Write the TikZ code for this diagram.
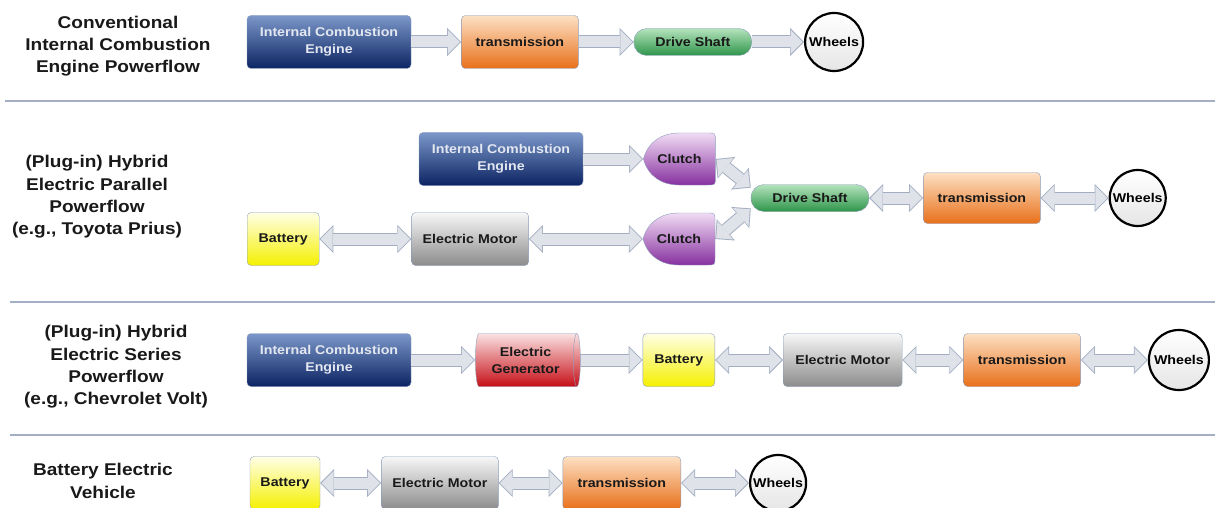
\documentclass[tikz,border=0pt]{standalone}
\usepackage{fontspec}
\setmainfont{Liberation Sans}[FakeStretch=1.12]
\usetikzlibrary{arrows.meta, positioning, shapes.geometric, backgrounds}

\definecolor{boxline}{HTML}{8D9DBD}
\definecolor{divline}{HTML}{A3AFC5}
\definecolor{arrowfill}{HTML}{DFE3E9}
\definecolor{arrowline}{HTML}{A3AEC2}
\definecolor{icetop}{HTML}{7B97C9}
\definecolor{icebot}{HTML}{0C2463}
\definecolor{icetext}{HTML}{E3E7F0}
\definecolor{trtop}{HTML}{FDE0C3}
\definecolor{trbot}{HTML}{E8701A}
\definecolor{dstop}{HTML}{B4E3BD}
\definecolor{dsbot}{HTML}{2E9549}
\definecolor{battop}{HTML}{FFFFE6}
\definecolor{batbot}{HTML}{F5F000}
\definecolor{emtop}{HTML}{F7F7F7}
\definecolor{embot}{HTML}{8C8C8C}
\definecolor{gentop}{HTML}{FBE2E2}
\definecolor{genbot}{HTML}{C50F17}
\definecolor{cltop}{HTML}{F0DCF4}
\definecolor{clbot}{HTML}{87309F}

\begin{document}
\begin{tikzpicture}[
    x=1pt, y=-1pt,
    box/.style = {
        draw=boxline,
        rounded corners=4pt,
        minimum height=53pt,
        inner sep=1pt,
        align=center,
        text=black!90,
        font=\fontsize{12.7}{17}\selectfont\bfseries
    },
    ice/.style = {box, minimum width=164pt, top color=icetop, bottom color=icebot, text=icetext},
    trans/.style = {box, minimum width=117pt, top color=trtop, bottom color=trbot},
    motor/.style = {box, minimum width=117pt, top color=emtop, bottom color=embot},
    batt/.style = {box, minimum width=72pt, top color=battop, bottom color=batbot},
    shaft/.style = {box, minimum width=118pt, minimum height=27pt, rounded corners=13pt, top color=dstop, bottom color=dsbot},
    gen/.style = {box, sharp corners, cylinder, aspect=0.25, minimum height=105pt, minimum width=53pt, top color=gentop, bottom color=genbot},
    clutch/.style = {
        minimum width=72pt, minimum height=52pt,
        inner sep=0pt,
        text=black!90,
        font=\fontsize{12.7}{17}\selectfont\bfseries
    },
    wheel/.style = {
        circle,
        draw=black, line width=2.2pt,
        minimum size=58pt, inner sep=0pt,
        top color=white, bottom color=black!10,
        font=\fontsize{12.7}{17}\selectfont\bfseries
    },
    rowtitle/.style = {
        align=center,
        text=black!90,
        font=\fontsize{17}{22.3}\selectfont\bfseries
    },
    divider/.style = {
        draw=divline,
        line width=1.8pt
    },
    flow/.style = {
        draw=arrowfill, line width=11pt,
        -{Triangle[width=24pt, length=12pt, line width=0pt]},
        shorten >=1.3pt,
        preaction={draw=arrowline, line width=13pt, shorten >=0pt,
            -{Triangle[width=28pt, length=14pt, line width=0pt]}}
    },
    flowboth/.style = {
        draw=arrowfill, line width=11pt,
        {Triangle[width=24pt, length=12pt, line width=0pt]}-{Triangle[width=24pt, length=12pt, line width=0pt]},
        shorten >=1.3pt, shorten <=1.3pt,
        preaction={draw=arrowline, line width=13pt, shorten >=0pt, shorten <=0pt,
            {Triangle[width=28pt, length=14pt, line width=0pt]}-{Triangle[width=28pt, length=14pt, line width=0pt]}}
    }
]
  \useasboundingbox (0,0) rectangle (1215,508);

  % conventional
  \node[rowtitle] (lab1) at (118,46) {Conventional\\Internal Combustion\\Engine Powerflow};
  \node[ice] (ice1) at (329,42) {Internal Combustion\\Engine};
  \node[trans] (tr1) [right=50pt of ice1] {transmission};
  \node[shaft] (ds1) [right=55pt of tr1] {Drive Shaft};
  \node[wheel] (wh1) [right=52pt of ds1] {Wheels};
  \draw[flow] (ice1) to (tr1);
  \draw[flow] (tr1) to (ds1);
  \draw[flow] (ds1) to (wh1);
  \draw[divider] (5,101) -- (1215,101);

  % parallel hybrid
  \node[rowtitle] (lab2) at (97,197) {(Plug-in) Hybrid\\Electric Parallel\\Powerflow\\(e.g., Toyota Prius)};
  \node[ice] (ice2) at (501,159) {Internal Combustion\\Engine};
  \node[clutch] (cl1) [right=60pt of ice2] {Clutch};
  \node[clutch] (cl2) at (679,239) {Clutch};
  \node[motor] (em2) [left=114pt of cl2] {Electric Motor};
  \node[batt] (bat2) [left=92pt of em2] {Battery};
  \node[shaft] (ds2) at (810,198) {Drive Shaft};
  \node[trans, minimum height=51pt] (tr2) [right=54pt of ds2] {transmission};
  \node[wheel, minimum size=56pt] (wh2) [right=68pt of tr2] {Wheels};
  \draw[flow] (ice2) to (cl1);
  \draw[flowboth] (bat2) to (em2);
  \draw[flowboth] (em2) to (cl2);
  \draw[flowboth] (cl1.east) to (ds2.170);
  \draw[flowboth] (cl2.east) to (ds2.190);
  \draw[flowboth] (ds2) to (tr2);
  \draw[flowboth] (tr2) to (wh2);
  \draw[divider] (10,302) -- (1215,302);

  % series hybrid
  \node[rowtitle] (lab3) at (116,367) {(Plug-in) Hybrid\\Electric Series\\Powerflow\\(e.g., Chevrolet Volt)};
  \node[ice] (ice3) at (329,360) {Internal Combustion\\Engine};
  \node[gen] (gen3) [right=64pt of ice3] {Electric\\Generator};
  \node[batt] (bat3) [right=62pt of gen3] {Battery};
  \node[motor, minimum width=119pt] (em3) [right=68pt of bat3] {Electric Motor};
  \node[trans] (tr3) [right=61pt of em3] {transmission};
  \node[wheel, minimum size=60pt] (wh3) [right=67pt of tr3] {Wheels};
  \draw[flow] (ice3) to (gen3);
  \draw[flow] (gen3) to (bat3);
  \draw[flowboth] (bat3) to (em3);
  \draw[flowboth] (em3) to (tr3);
  \draw[flowboth] (tr3) to (wh3);
  \draw[divider] (10,435) -- (1215,435);

  % battery electric
  \node[rowtitle] (lab4) at (103,481) {Battery Electric\\Vehicle};
  \node[batt, minimum width=70pt] (bat4) at (285,483) {Battery};
  \node[motor] (em4) [right=61pt of bat4] {Electric Motor};
  \node[trans, minimum width=118pt] (tr4) [right=64pt of em4] {transmission};
  \node[wheel, minimum size=56pt] (wh4) [right=68pt of tr4] {Wheels};
  \draw[flowboth] (bat4) to (em4);
  \draw[flowboth] (em4) to (tr4);
  \draw[flowboth] (tr4) to (wh4);

  \begin{scope}[on background layer]
    \fill[white] (0,0) rectangle (1215,508);
    \foreach \c in {cl1, cl2}
      \shadedraw[draw=boxline, top color=cltop, bottom color=clbot, shift={(\c.center)}]
        (-36,0) .. controls (-31,-18) and (-17,-26) .. (0,-26) -- (28,-26)
        .. controls (36,-26) .. (36,-18) -- (36,18) .. controls (36,26) .. (28,26)
        -- (0,26) .. controls (-17,26) and (-31,18) .. (-36,0) -- cycle;
  \end{scope}
\end{tikzpicture}
\end{document}
